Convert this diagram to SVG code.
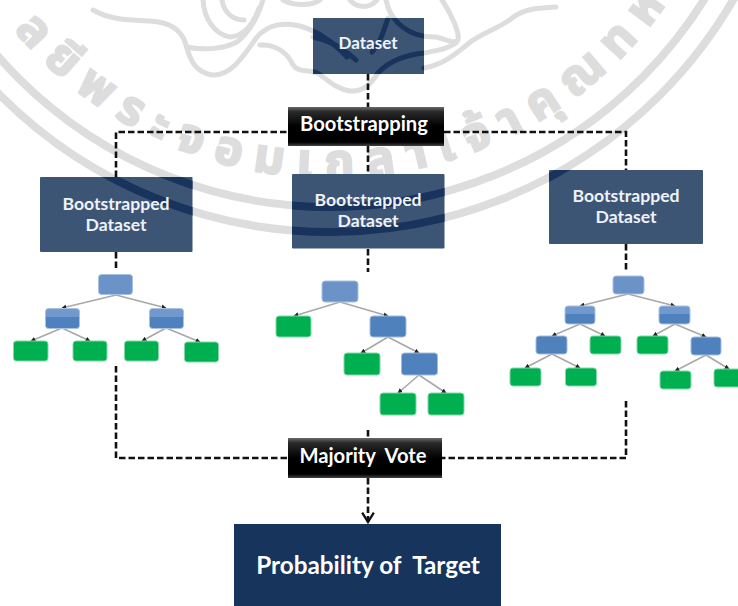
<svg xmlns="http://www.w3.org/2000/svg" xmlns:xlink="http://www.w3.org/1999/xlink" width="738" height="606" viewBox="0 0 738 606">
<style>
text{font-family:"Lato","Open Sans","Liberation Sans",sans-serif;font-weight:700;fill:#fff;text-anchor:middle}
.box{fill:#3d5574}
.lb{font-size:17.6px;fill:#eef3fa}
.big{font-size:20.2px}
.dash{fill:none;stroke:#111;stroke-width:2.6;stroke-dasharray:6.5 3}
.edge{fill:none;stroke:#a8a8a8;stroke-width:1.6;marker-end:url(#tip)}
.root{fill:#6c93c8;stroke:#a9c1e2;stroke-width:1}
.two{fill:url(#twotone);stroke:#a9c1e2;stroke-width:1}
.blue{fill:#4f81bd;stroke:#a0bcdf;stroke-width:1}
.leaf{fill:#00b050;stroke:#7fd8a6;stroke-width:1}
.wmr{stroke-width:8}
.wmo{stroke-width:5;stroke-linecap:round;stroke-linejoin:round}
.wmt{font-family:"Noto Sans Thai","Noto Sans","DejaVu Sans",sans-serif;font-size:48px;fill:#dddddd;stroke:#dddddd;stroke-width:2;font-weight:700;text-anchor:start;letter-spacing:13px}
</style>
<defs>
<linearGradient id="twotone" x1="0" y1="0" x2="0" y2="1"><stop offset="0" stop-color="#7199cd"/><stop offset=".42" stop-color="#7199cd"/><stop offset=".42" stop-color="#4f81bd"/><stop offset="1" stop-color="#4f81bd"/></linearGradient>
<linearGradient id="bevel" x1="0" y1="0" x2="0" y2="1"><stop offset="0" stop-color="#6a6a6a"/><stop offset=".12" stop-color="#2a2a2a"/><stop offset=".5" stop-color="#000"/><stop offset=".9" stop-color="#000"/><stop offset="1" stop-color="#444"/></linearGradient>
<marker id="tip" viewBox="0 0 8 8" refX="7" refY="4" markerWidth="5" markerHeight="5" orient="auto" markerUnits="userSpaceOnUse"><path d="M0 0L8 4L0 8z" fill="#222"/></marker>
<marker id="open" viewBox="0 0 12 12" refX="10" refY="6" markerWidth="14" markerHeight="14" orient="auto" markerUnits="userSpaceOnUse"><path d="M2 1L10 6L2 11" fill="none" stroke="#111" stroke-width="2"/></marker>
<g id="wm" fill="none">
<circle class="wmr" cx="330" cy="-234" r="441"/>
<circle class="wmr" cx="330" cy="-234" r="466"/>
<path class="wmo" d="M93 10C110 20 130 20 150 21C170 22 182 30 186 45C190 60 195 72 212 75C232 76 244 55 257 37C268 24 285 22 300 26C320 32 335 44 347 57"/>
<path class="wmo" d="M187 47C200 50 222 50 237 42C250 32 258 16 263 0"/>
<path class="wmo" d="M260 45C275 44 287 52 293 65C298 72 306 70 315 72C325 76 332 88 350 91C365 92 372 82 378 73C388 62 405 55 424 53C438 50 445 50 456 43"/>
<path class="wmo" d="M203 0C204 18 214 34 230 37C245 36 254 22 259 8"/>
<path class="wmo" d="M222 0C224 12 232 20 244 20"/>
<path class="wmo" d="M283 0C292 5 310 7 320 0M350 0C356 7 368 10 377 0"/>
<path class="wmo" d="M386 0C390 22 410 38 436 37C448 40 454 44 458 40C460 32 450 12 442 0"/>
<path class="wmo" d="M424 68C445 64 458 52 469 43C482 33 500 28 512 18C525 8 540 8 556 7"/>
<path class="wmo" d="M313 37C330 40 345 50 356 60M372 52C380 44 384 30 388 18"/>
</g>
<clipPath id="boxes"><rect x="313" y="18" width="111" height="56"/><rect x="40" y="177" width="152.500" height="75"/><rect x="292" y="174" width="152.500" height="74.500"/><rect x="549" y="170" width="154" height="74"/></clipPath>
<path id="ring" d="M14 30A412 412 0 0 0 676 -10"/>
</defs>

<g id="watermark">
<use href="#wm" stroke="#dddddd"/>
<text class="wmt"><textPath href="#ring" startOffset="0">ลยีพระจอมเกล้าเจ้าคุณทห</textPath></text>
</g>

<g id="connectors">
<path class="dash" d="M368 74V107M116 177V132H288M444 132H626V170M368 146V174"/>
<path class="dash" d="M116 252V270M368 249V272M626 244V270"/>
<path class="dash" d="M116 366V458H288M626 401V458H442M368 430V438"/>
<path class="dash" d="M368 478V522" marker-end="url(#open)"/>
<path class="edge" d="M116 295L62 308"/><path class="edge" d="M116 295L166 308"/>
<path class="edge" d="M62 328L31 341"/><path class="edge" d="M62 328L90 341"/>
<path class="edge" d="M166 328L142 341"/><path class="edge" d="M166 328L200 342"/>
<path class="edge" d="M340 302L294 316"/><path class="edge" d="M340 302L388 316"/>
<path class="edge" d="M388 337L361 353"/><path class="edge" d="M388 337L419 353"/>
<path class="edge" d="M419 375L398 393"/><path class="edge" d="M419 375L446 393"/>
<path class="edge" d="M628 294L580 306"/><path class="edge" d="M628 294L675 306"/>
<path class="edge" d="M580 324L552 336"/><path class="edge" d="M580 324L605 336"/>
<path class="edge" d="M675 324L653 336"/><path class="edge" d="M675 324L706 337"/>
<path class="edge" d="M552 354L525 368"/><path class="edge" d="M552 354L580 368"/>
<path class="edge" d="M706 355L675 371"/><path class="edge" d="M706 355L729 369"/>
</g>

<g id="box-fills">
<rect class="box" x="313" y="18" width="111" height="56"/>
<rect class="box" x="40" y="177" width="152.500" height="75" rx="1"/>
<rect class="box" x="292" y="174" width="152.500" height="74.500" rx="1"/>
<rect class="box" x="549" y="170" width="154" height="74" rx="1"/>
<use href="#wm" stroke="#18335c" clip-path="url(#boxes)"/>
</g>

<g id="dataset"><text class="lb" x="368" y="49" style="font-size:17px">Dataset</text></g>
<g id="bootstrapped-1"><text class="lb" x="116" y="210">Bootstrapped</text><text class="lb" x="116" y="231">Dataset</text></g>
<g id="bootstrapped-2"><text class="lb" x="368" y="206">Bootstrapped</text><text class="lb" x="368" y="227">Dataset</text></g>
<g id="bootstrapped-3"><text class="lb" x="626" y="202">Bootstrapped</text><text class="lb" x="626" y="223">Dataset</text></g>

<g id="bootstrapping"><rect x="288" y="107" width="156" height="39" fill="url(#bevel)"/><text class="big" x="364" y="131">Bootstrapping</text></g>
<g id="majority-vote"><rect x="288" y="438" width="154" height="40" fill="url(#bevel)"/><text class="big" x="363" y="463" xml:space="preserve">Majority  Vote</text></g>
<g id="probability"><rect x="234" y="524" width="267" height="82" fill="#17345d"/><text x="368" y="574" style="font-size:24.300px" xml:space="preserve">Probability of  Target</text></g>

<g id="tree-1">
<g id="t1-root"><rect class="root" x="98.500" y="274.500" width="34" height="20" rx="3"/></g>
<g id="t1-a"><rect class="two" x="45.500" y="308.500" width="34" height="20" rx="3"/></g>
<g id="t1-b"><rect class="two" x="149.500" y="308.500" width="34" height="20" rx="3"/></g>
<g id="t1-l1"><rect class="leaf" x="13.500" y="341" width="34.500" height="20" rx="3"/></g>
<g id="t1-l2"><rect class="leaf" x="73" y="341" width="34" height="20" rx="3"/></g>
<g id="t1-l3"><rect class="leaf" x="124.500" y="341" width="34" height="20" rx="3"/></g>
<g id="t1-l4"><rect class="leaf" x="184.500" y="342" width="34" height="20" rx="3"/></g>
</g>
<g id="tree-2">
<g id="t2-root"><rect class="root" x="322" y="281" width="36" height="21" rx="3"/></g>
<g id="t2-l1"><rect class="leaf" x="276" y="316" width="35" height="21" rx="3"/></g>
<g id="t2-a"><rect class="blue" x="370" y="316" width="36" height="21" rx="3"/></g>
<g id="t2-l2"><rect class="leaf" x="344" y="353" width="36" height="22" rx="3"/></g>
<g id="t2-b"><rect class="blue" x="401.500" y="353" width="36" height="22" rx="3"/></g>
<g id="t2-l3"><rect class="leaf" x="380" y="393" width="36" height="22" rx="3"/></g>
<g id="t2-l4"><rect class="leaf" x="428" y="393" width="36" height="22" rx="3"/></g>
</g>
<g id="tree-3">
<g id="t3-root"><rect class="root" x="613" y="276" width="31" height="18" rx="3"/></g>
<g id="t3-a"><rect class="two" x="565" y="306" width="30" height="18" rx="3"/></g>
<g id="t3-b"><rect class="two" x="659" y="306" width="31" height="18" rx="3"/></g>
<g id="t3-c"><rect class="blue" x="536" y="336" width="31" height="18" rx="3"/></g>
<g id="t3-l1"><rect class="leaf" x="590" y="336" width="31" height="18" rx="3"/></g>
<g id="t3-l2"><rect class="leaf" x="637" y="336" width="31" height="18" rx="3"/></g>
<g id="t3-d"><rect class="blue" x="691" y="337" width="30" height="18" rx="3"/></g>
<g id="t3-l3"><rect class="leaf" x="510" y="368" width="31" height="18" rx="3"/></g>
<g id="t3-l4"><rect class="leaf" x="565.500" y="368" width="31" height="18" rx="3"/></g>
<g id="t3-l5"><rect class="leaf" x="660" y="371" width="31" height="18" rx="3"/></g>
<g id="t3-l6"><rect class="leaf" x="714" y="369" width="31" height="18" rx="3"/></g>
</g>
</svg>
